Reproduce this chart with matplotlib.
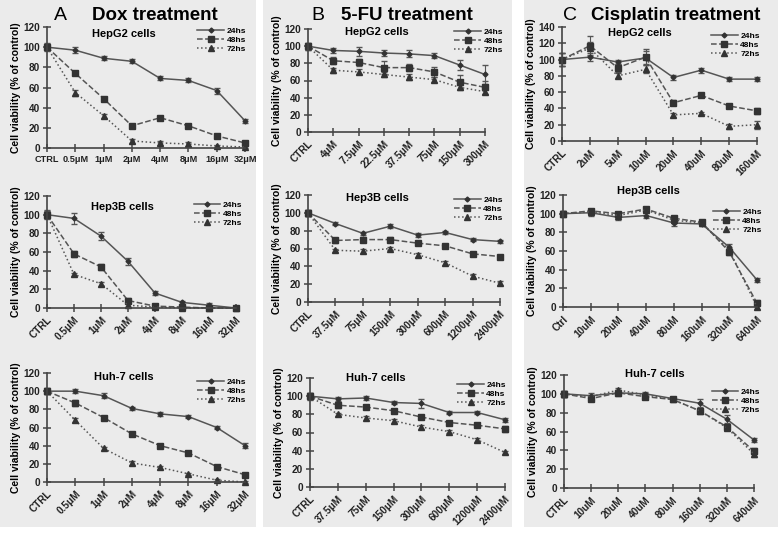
import matplotlib
matplotlib.use("Agg")
import matplotlib.pyplot as plt
from matplotlib.patches import Rectangle
from matplotlib.lines import Line2D

plt.rcParams['font.family'] = ['Liberation Sans', 'DejaVu Sans']

W, H = 778, 533

# --- data -------------------------------------------------------------
series_names = ['24hs', '48hs', '72hs']

dox_doses = ['CTRL', '0.5μM', '1μM', '2μM', '4μM', '8μM', '16μM', '32μM']
dox_doses_b = ['CTRL', '0.5μM', '1μM', '2μM', '4μM', '8μM', '16μM', '32μM']
fu_doses_1 = ['CTRL', '4μM', '7.5μM', '22.5μM', '37.5μM', '75μM', '150μM', '300μM']
fu_doses_2 = ['CTRL', '37.5μM', '75μM', '150μM', '300μM', '600μM', '1200μM', '2400μM']
cis_doses_1 = ['CTRL', '2uM', '5uM', '10uM', '20uM', '40uM', '80uM', '160uM']
cis_doses_2 = ['Ctrl', '10uM', '20uM', '40uM', '80uM', '160uM', '320uM', '640uM']
cis_doses_3 = ['CTRL', '10uM', '20uM', '40uM', '80uM', '160uM', '320uM', '640uM']

dox_hepg2 = [[100, 97, 89, 86, 69, 67, 57, 27],
             [100, 74, 49, 22, 30, 22, 12, 5],
             [100, 55, 32, 7, 5, 4, 2, 1]]
dox_hep3b = [[100, 96, 77, 50, 16, 6, 3, 0],
             [100, 58, 44, 8, 2, 1, 0, 0],
             [100, 36, 26, 3, 1, 0, 0, 0]]
dox_huh7 = [[100, 100, 95, 81, 75, 72, 60, 40],
            [100, 87, 71, 53, 40, 32, 17, 8],
            [100, 68, 37, 21, 16, 9, 2, 0]]

fu_hepg2 = [[100, 95, 94, 92, 91, 89, 78, 67],
            [100, 83, 81, 75, 75, 70, 58, 52],
            [100, 72, 70, 67, 64, 61, 52, 47]]
fu_hep3b = [[100, 88, 77, 85, 75, 78, 70, 68],
            [100, 69, 70, 70, 66, 63, 54, 51],
            [100, 58, 57, 60, 53, 44, 29, 21]]
fu_huh7 = [[100, 97, 98, 93, 92, 82, 82, 74],
           [100, 90, 88, 84, 77, 71, 68, 64],
           [100, 80, 76, 73, 66, 61, 52, 38]]

cis_hepg2 = [[100, 103, 97, 102, 78, 87, 76, 76],
             [100, 117, 90, 103, 47, 56, 43, 37],
             [100, 114, 80, 88, 32, 34, 18, 20]]
cis_hep3b = [[100, 101, 96, 98, 90, 89, 64, 29],
             [100, 103, 100, 105, 95, 91, 59, 4],
             [100, 102, 98, 104, 93, 90, 61, 0]]
cis_huh7 = [[100, 98, 101, 100, 95, 90, 73, 51],
            [100, 95, 101, 97, 94, 82, 65, 39],
            [100, 97, 104, 99, 94, 82, 64, 36]]

# error bars (SD), read roughly
dox_hepg2_err = [[4, 3, 2, 2, 2, 2, 3, 2], [3, 2, 2, 2, 2, 2, 2, 2], [3, 3, 2, 2, 2, 2, 1, 1]]
dox_hep3b_err = [[5, 6, 4, 4, 2, 2, 2, 1], [4, 3, 3, 3, 2, 1, 1, 1], [4, 2, 2, 2, 1, 1, 1, 1]]
dox_huh7_err = [[2, 2, 3, 2, 2, 2, 2, 3], [3, 3, 2, 2, 2, 2, 2, 2], [3, 2, 2, 2, 2, 1, 1, 1]]
fu_hepg2_err = [[4, 3, 5, 3, 4, 3, 6, 11], [4, 4, 4, 8, 4, 6, 8, 8], [3, 3, 3, 3, 3, 3, 3, 3]]
fu_hep3b_err = [[3, 2, 2, 2, 2, 2, 2, 2], [3, 3, 3, 3, 2, 2, 2, 2], [3, 2, 2, 2, 2, 2, 2, 2]]
fu_huh7_err = [[3, 2, 2, 2, 5, 2, 2, 2], [3, 3, 2, 2, 2, 2, 2, 3], [4, 2, 2, 2, 2, 2, 2, 2]]
cis_hepg2_err = [[8, 5, 3, 8, 3, 3, 2, 2], [8, 12, 5, 10, 3, 2, 2, 4], [8, 8, 3, 5, 3, 2, 3, 5]]
cis_hep3b_err = [[3, 3, 3, 3, 3, 2, 3, 2], [3, 2, 2, 2, 2, 2, 3, 3], [3, 2, 2, 2, 2, 2, 2, 2]]
cis_huh7_err = [[3, 3, 3, 2, 2, 4, 4, 2], [3, 2, 2, 2, 2, 2, 3, 3], [3, 2, 2, 2, 2, 2, 2, 3]]

# --- layout (pixel boxes: left, right, top, bottom) --------------------
panels = [
    # values, errors, labels, cell title, box, ymax, rotate, title pos, legend anchor
    (dox_hepg2, dox_hepg2_err, dox_doses, 'HepG2 cells', (47, 245, 27, 148), 120, False, (0.39, 0.94), (1.03, 1.04)),
    (dox_hep3b, dox_hep3b_err, dox_doses_b, 'Hep3B cells', (47, 236, 196, 308), 120, True, (0.40, 0.90), (1.06, 1.0)),
    (dox_huh7, dox_huh7_err, dox_doses, 'Huh-7 cells', (47, 245, 373, 482), 120, True, (0.39, 0.96), (1.03, 1.0)),
    (fu_hepg2, fu_hepg2_err, fu_doses_1, 'HepG2 cells', (308, 485, 29, 132), 120, True, (0.39, 0.97), (1.13, 1.06)),
    (fu_hep3b, fu_hep3b_err, fu_doses_2, 'Hep3B cells', (308, 500, 195, 302), 120, True, (0.36, 0.97), (1.04, 1.04)),
    (fu_huh7, fu_huh7_err, fu_doses_2, 'Huh-7 cells', (310, 505, 378, 487), 120, True, (0.34, 1.0), (1.03, 1.02)),
    (cis_hepg2, cis_hepg2_err, cis_doses_1, 'HepG2 cells', (562, 757, 27, 141), 140, True, (0.40, 0.95), (1.04, 1.0)),
    (cis_hep3b, cis_hep3b_err, cis_doses_2, 'Hep3B cells', (563, 757, 195, 307), 120, True, (0.44, 1.04), (1.05, 0.93)),
    (cis_huh7, cis_huh7_err, cis_doses_3, 'Huh-7 cells', (564, 754, 375, 488), 120, True, (0.48, 1.01), (1.06, 0.93)),
]

headers = [('A', 'Dox treatment', 60, 155), ('B', '5-FU treatment', 318, 407),
           ('C', 'Cisplatin treatment', 570, 676)]

line_styles = ['-', '--', ':']
markers = ['D', 's', '^']
marker_sizes = [2.5, 5, 4]
LINE_C = '#555555'
MARK_C = '#333333'

fig = plt.figure(figsize=(W / 100, H / 100), dpi=100)

# grey background panels, drawn on an axes that sits behind everything
bg = fig.add_axes([0, 0, 1, 1], zorder=-10)
bg.set_xlim(0, W)
bg.set_ylim(H, 0)
bg.axis('off')
for x0, x1 in [(0, 256), (263, 512), (524, 778)]:
    bg.add_patch(Rectangle((x0, 0), x1 - x0, 527, facecolor='#ebebeb', edgecolor='none'))

for letter, title, lx, tx in headers:
    fig.text(lx / W, 1 - 15 / H, letter, fontsize=14, ha='center', va='center')
    fig.text(tx / W, 1 - 15 / H, title, fontsize=13.5, fontweight='bold',
             ha='center', va='center')

# legend handles: line + marker only, no error bars
handles = [Line2D([], [], color=LINE_C, linestyle=line_styles[i], linewidth=1.1,
                  marker=markers[i], markersize=marker_sizes[i],
                  markerfacecolor=MARK_C, markeredgecolor=MARK_C)
           for i in range(3)]

for values, errors, labels, cell, box, ymax, rotate, tpos, lpos in panels:
    l, r, t, b = box
    ax = fig.add_axes([l / W, 1 - b / H, (r - l) / W, (b - t) / H])
    ax.set_facecolor('none')
    x = list(range(len(labels)))
    for i in range(3):
        ax.errorbar(x, values[i], yerr=errors[i], color=LINE_C, linestyle=line_styles[i],
                    linewidth=1.1, marker=markers[i], markersize=marker_sizes[i],
                    markerfacecolor=MARK_C, markeredgecolor=MARK_C,
                    ecolor=LINE_C, elinewidth=0.8, capsize=2, clip_on=False)
    ax.set_xlim(0, len(labels) - 1)
    ax.set_ylim(0, ymax)
    ax.set_yticks(range(0, ymax + 1, 20))
    ax.set_xticks(x)
    ax.tick_params(direction='inout', length=6, width=1.1, color='#444444',
                   labelsize=7.2, pad=2)
    if rotate:
        ax.set_xticklabels(labels, rotation=45, ha='right', rotation_mode='anchor')
    else:
        # flat labels are a bit smaller so they fit the panel
        ax.set_xticklabels(labels)
        ax.tick_params(axis='x', labelsize=6.6)
    for sp in ['top', 'right']:
        ax.spines[sp].set_visible(False)
    for sp in ['left', 'bottom']:
        ax.spines[sp].set_color('#444444')
        ax.spines[sp].set_linewidth(1.2)
    for lab in ax.get_xticklabels() + ax.get_yticklabels():
        lab.set_fontweight('bold')
        lab.set_color('#222222')
    ax.set_ylabel('Cell viability (% of control)', fontsize=7.5, fontweight='bold', labelpad=2)
    ax.text(tpos[0], tpos[1], cell, transform=ax.transAxes, fontsize=8,
            fontweight='bold', ha='center', va='center')
    leg = ax.legend(handles, series_names, loc='upper right', bbox_to_anchor=lpos,
                    frameon=False, fontsize=6, handlelength=3.2, handletextpad=0.3,
                    labelspacing=0.15, borderpad=0.1)
    for txt in leg.get_texts():
        txt.set_fontweight('bold')

fig.savefig('out.png', dpi=100, facecolor='white')
